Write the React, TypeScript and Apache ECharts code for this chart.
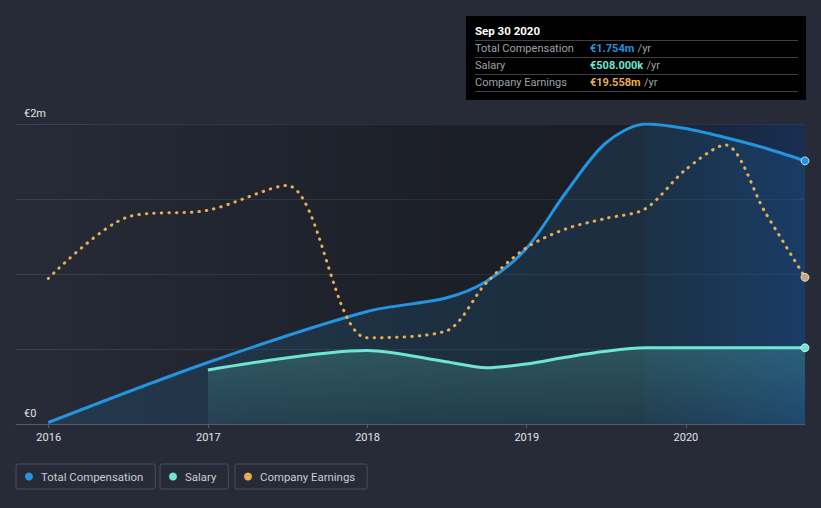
import React, { useEffect, useRef } from 'react';
import * as echarts from 'echarts';

// ---------- data ----------
const compDates = ['2015-12-31', '2016-12-31', '2017-12-31', '2018-06-30', '2018-09-30', '2018-12-31', '2019-03-31', '2019-06-30', '2019-09-30', '2019-12-31', '2020-03-31', '2020-06-30', '2020-09-30'];
const compValues = [0.01, 0.41, 0.75, 0.84, 0.95, 1.17, 1.54, 1.87, 2.0, 1.97, 1.91, 1.84, 1.754]; // € millions

const salaryDates = ['2016-12-31', '2017-12-31', '2018-06-30', '2018-09-30', '2018-12-31', '2019-03-31', '2019-06-30', '2019-09-30', '2019-12-31', '2020-03-31', '2020-06-30', '2020-09-30'];
const salaryValues = [0.36, 0.49, 0.415, 0.375, 0.4, 0.445, 0.485, 0.508, 0.508, 0.508, 0.508, 0.508]; // € millions

const earnDates = ['2015-12-31', '2016-06-30', '2016-12-31', '2017-06-30', '2017-12-31', '2018-06-30', '2018-09-30', '2018-12-31', '2019-03-31', '2019-06-30', '2019-09-30', '2019-12-31', '2020-03-31', '2020-06-30', '2020-09-30'];
const earnValues = [19.4, 27.6, 28.5, 31.8, 11.5, 12.4, 18.8, 23.5, 26.0, 27.4, 28.7, 33.9, 37.2, 28.3, 19.558]; // € millions

const yearTicks = ['2016-01-01', '2017-01-01', '2018-01-01', '2019-01-01', '2020-01-01'];
const axisStart = '2015-10-18';
const axisEnd = '2020-09-30';
const highlightStart = '2019-09-30';
const tooltipTitle = 'Sep 30 2020';

const seriesNames = ['Total Compensation', 'Salary', 'Company Earnings'];

// ---------- styles ----------
const BG = '#262b37';
const BLUE = '#2394df';
const TEAL = '#6fe6d2';
const ORANGE = '#e8ad52';
const FONT = 'Roboto, "Noto Sans", sans-serif';
const SMOOTH = 0.3;

const ts = (s: string) => Date.UTC(+s.slice(0, 4), +s.slice(5, 7) - 1, +s.slice(8, 10));

function makeData(dates: string[], values: number[], color: string) {
  return dates.map((d, i) => {
    const item: any = { value: [ts(d), values[i]] };
    if (i === dates.length - 1) {
      item.symbol = 'circle';
      item.symbolSize = 8;
      item.itemStyle = { color, borderColor: 'rgba(255,255,255,0.7)', borderWidth: 1 };
    }
    return item;
  });
}

function buildOption(): any {
  const lastComp = compValues[compValues.length - 1];
  const lastSalary = salaryValues[salaryValues.length - 1];
  const lastEarn = earnValues[earnValues.length - 1];
  const rows = [
    { label: seriesNames[0], value: `€${lastComp.toFixed(3)}m`, color: BLUE },
    { label: seriesNames[1], value: `€${(lastSalary * 1000).toFixed(3)}k`, color: TEAL },
    { label: seriesNames[2], value: `€${lastEarn.toFixed(3)}m`, color: ORANGE },
  ];

  const tooltipChildren: any[] = [
    { type: 'rect', shape: { x: 0, y: 0, width: 340, height: 84 }, style: { fill: '#000' } },
    {
      type: 'text', x: 9, y: 15,
      style: { text: tooltipTitle, fill: '#fff', font: `bold 11.5px ${FONT}`, verticalAlign: 'middle' },
    },
  ];
  [24, 41, 58, 75].forEach((y) => {
    tooltipChildren.push({
      type: 'line', shape: { x1: 9, y1: y + 0.5, x2: 332, y2: y + 0.5 },
      style: { stroke: '#3d3f44', lineWidth: 1 },
    });
  });
  rows.forEach((r, i) => {
    const y = 32.5 + i * 17;
    tooltipChildren.push({
      type: 'text', x: 9, y,
      style: { text: r.label, fill: '#9ea2aa', font: `11px ${FONT}`, verticalAlign: 'middle' },
    });
    tooltipChildren.push({
      type: 'text', x: 124, y,
      style: {
        text: `{v|${r.value}} {u|/yr}`,
        verticalAlign: 'middle',
        rich: {
          v: { fill: r.color, fontFamily: FONT, fontSize: 11, fontWeight: 'bold' },
          u: { fill: '#9ea2aa', fontFamily: FONT, fontSize: 11 },
        },
      },
    });
  });

  const legendBase = {
    top: 464,
    orient: 'horizontal',
    icon: 'circle',
    itemWidth: 14,
    itemHeight: 8,
    padding: [7, 12, 7, 9],
    borderColor: '#4a4f5b',
    borderWidth: 1,
    borderRadius: 2,
    textStyle: { color: '#c9ccd2', fontSize: 11.4, fontFamily: FONT },
  };

  return {
    animation: false,
    backgroundColor: BG,
    textStyle: { fontFamily: FONT },
    grid: { left: 16, right: 16, top: 124, bottom: 84 },
    legend: [
      { ...legendBase, left: 16, data: [seriesNames[0]] },
      { ...legendBase, left: 160, data: [seriesNames[1]] },
      { ...legendBase, left: 235, data: [seriesNames[2]] },
    ],
    xAxis: {
      type: 'value',
      min: ts(axisStart),
      max: ts(axisEnd),
      axisLine: { show: true, lineStyle: { color: '#555a65', width: 1 } },
      axisTick: { show: true, customValues: yearTicks.map(ts), length: 4, lineStyle: { color: '#555a65' } },
      axisLabel: {
        customValues: yearTicks.map(ts),
        formatter: (v: number) => String(new Date(v).getUTCFullYear()),
        color: '#e2e3e6',
        fontSize: 11,
        margin: 8,
      },
      splitLine: { show: false },
    },
    yAxis: [
      {
        type: 'value',
        min: 0,
        max: 2,
        interval: 0.5,
        axisLine: { show: false },
        axisTick: { show: false },
        axisLabel: {
          inside: true,
          margin: 8,
          verticalAlign: 'bottom',
          padding: [0, 0, 5, 0],
          color: '#e2e3e6',
          fontSize: 11,
          formatter: (v: number) => (v === 0 ? '€0' : v === 2 ? '€2m' : ''),
        },
        splitLine: { show: true, lineStyle: { color: '#3c414c', width: 1 } },
      },
      {
        type: 'value',
        min: 0,
        max: 40,
        show: false,
        splitLine: { show: false },
      },
    ],
    series: [
      {
        name: seriesNames[0],
        type: 'line',
        yAxisIndex: 0,
        data: makeData(compDates, compValues, BLUE),
        smooth: SMOOTH,
        symbol: 'none',
        showSymbol: true,
        itemStyle: { color: BLUE },
        lineStyle: { color: BLUE, width: 3 },
        areaStyle: { color: 'rgba(35,148,223,0.2)' },
        z: 3,
        markArea: {
          silent: true,
          data: [
            [
              {
                xAxis: ts(axisStart),
                itemStyle: {
                  color: new echarts.graphic.LinearGradient(0, 0, 1, 0, [
                    { offset: 0, color: 'rgba(0,0,0,0)' },
                    { offset: 0.55, color: 'rgba(0,0,0,0.28)' },
                    { offset: 1, color: 'rgba(0,0,0,0.32)' },
                  ]),
                },
              },
              { xAxis: ts(axisEnd) },
            ],
            [
              {
                xAxis: ts(highlightStart),
                itemStyle: {
                  color: new echarts.graphic.LinearGradient(0, 0, 1, 0, [
                    { offset: 0, color: 'rgba(20,90,200,0.04)' },
                    { offset: 1, color: 'rgba(20,90,200,0.28)' },
                  ]),
                },
              },
              { xAxis: ts(axisEnd) },
            ],
          ],
        },
      },
      {
        name: seriesNames[1],
        type: 'line',
        yAxisIndex: 0,
        data: makeData(salaryDates, salaryValues, TEAL),
        smooth: SMOOTH,
        symbol: 'none',
        showSymbol: true,
        itemStyle: { color: TEAL },
        lineStyle: { color: TEAL, width: 3 },
        areaStyle: {
          color: new echarts.graphic.LinearGradient(0, 0, 0, 1, [
            { offset: 0, color: 'rgba(111,230,210,0.3)' },
            { offset: 1, color: 'rgba(111,230,210,0.1)' },
          ]),
        },
        z: 4,
      },
      {
        name: seriesNames[2],
        type: 'line',
        yAxisIndex: 1,
        data: makeData(earnDates, earnValues, '#c9a67e'),
        smooth: SMOOTH,
        symbol: 'none',
        showSymbol: true,
        itemStyle: { color: ORANGE },
        lineStyle: { color: ORANGE, width: 3, type: [0.5, 7], cap: 'round' },
        z: 5,
      },
    ],
    graphic: [{ type: 'group', left: 466, top: 16, children: tooltipChildren }],
  };
}

export default function App() {
  const ref = useRef<HTMLDivElement>(null);
  useEffect(() => {
    document.body.style.margin = '0';
    document.body.style.background = BG;
    const chart = echarts.init(ref.current!, null, { renderer: 'svg' });
    chart.setOption(buildOption());
    return () => chart.dispose();
  }, []);
  return <div ref={ref} style={{ width: 821, height: 508, background: BG }} />;
}
